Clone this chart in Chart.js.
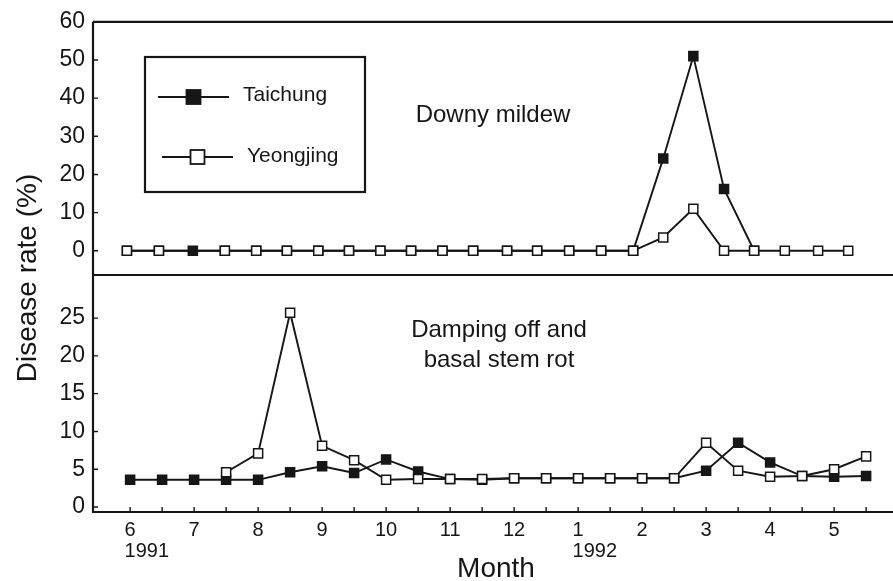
<!DOCTYPE html>
<html>
<head>
<meta charset="utf-8">
<script src="https://cdn.jsdelivr.net/npm/chart.js@4.4.1/dist/chart.umd.min.js"></script>
<style>
    html, body { margin: 0; padding: 0; background: #fff; }
    #wrap { position: relative; width: 893px; height: 581px; }
    #wrap canvas { position: absolute; left: 0; top: 0; }
</style>
</head>
<body>
<div id="wrap">
    <canvas id="mildewChart" width="893" height="581"></canvas>
    <canvas id="dampingChart" width="893" height="581"></canvas>
</div>
<script>
// x values are months counted from June 1991 (0 = Jun 1991, 7 = Jan 1992)
const monthTicks = [0, 0.5, 1, 1.5, 2, 2.5, 3, 3.5, 4, 4.5, 5, 5.5, 6, 6.5, 7, 7.5, 8, 8.5, 9, 9.5, 10, 10.5, 11, 11.5];
const monthNames = ['6', '7', '8', '9', '10', '11', '12', '1', '2', '3', '4', '5'];
const yearAt = [0, 7];
const yearNames = ['1991', '1992'];

const mildewTicks = [0, 10, 20, 30, 40, 50, 60];
const dampingTicks = [0, 5, 10, 15, 20, 25];

// Downy mildew (top panel)
const mildewDates = [-0.05, 0.45, 0.98, 1.48, 1.97, 2.45, 2.94, 3.42, 3.91, 4.39, 4.88, 5.36, 5.89, 6.36, 6.86, 7.36, 7.86, 8.33, 8.80, 9.28, 9.75, 10.23, 10.75, 11.22];
const mildewTaichung = [0, 0, 0, 0, 0, 0, 0, 0, 0, 0, 0, 0, 0, 0, 0, 0, 0, 24.2, 51, 16.2, 0, null, null, null];
const mildewYeongjing = [0, 0, null, 0, 0, 0, 0, 0, 0, 0, 0, 0, 0, 0, 0, 0, 0, 3.5, 11, 0, 0, 0, 0, 0];

// Damping off and basal stem rot (bottom panel)
const dampingDates = monthTicks;
const dampingTaichung = [3.6, 3.6, 3.6, 3.6, 3.6, 4.6, 5.4, 4.5, 6.3, 4.7, 3.7, 3.6, 3.8, 3.8, 3.8, 3.8, 3.8, 3.8, 4.8, 8.5, 5.9, 4.1, 4.0, 4.1];
const dampingYeongjing = [null, null, null, 4.6, 7.1, 25.7, 8.1, 6.2, 3.6, 3.7, 3.7, 3.7, 3.8, 3.8, 3.8, 3.8, 3.8, 3.8, 8.5, 4.8, 4.0, 4.1, 5.0, 6.7];

const INK = '#161616';
const FONT = "'Liberation Sans', Arial, Helvetica, sans-serif";
const X_MIN = -0.58;
const X_MAX = 11.92;

Chart.defaults.font.family = FONT;
Chart.defaults.color = INK;

function series(xs, ys) {
    return xs.map((x, i) => ({ x: x, y: ys[i] }));
}

function lineStyle(filled) {
    return {
        borderColor: INK,
        borderWidth: 1.9,
        pointStyle: 'rect',
        pointRadius: 6.4,
        pointBorderWidth: 1.5,
        pointBorderColor: INK,
        pointBackgroundColor: filled ? INK : '#fff',
        spanGaps: true,
        tension: 0
    };
}

function yScale(min, max, values) {
    return {
        type: 'linear',
        min: min,
        max: max,
        afterBuildTicks: axis => { axis.ticks = values.map(v => ({ value: v })); },
        afterFit: axis => { axis.width = 93; },
        grid: { display: false, drawTicks: false },
        border: { display: false },
        ticks: { padding: 8, font: { size: 23 }, color: INK }
    };
}

// frame lines + small inward tick marks
const framePlugin = {
    id: 'frame',
    beforeDatasetsDraw(chart, args, opts) {
        const { ctx, chartArea: a, scales } = chart;
        ctx.save();
        ctx.strokeStyle = INK;
        ctx.lineWidth = 2.2;
        ctx.beginPath();
        if (opts.top) { ctx.moveTo(a.left, a.top); ctx.lineTo(a.right, a.top); }
        ctx.moveTo(a.left, a.top); ctx.lineTo(a.left, a.bottom);
        ctx.moveTo(a.left - 1, a.bottom); ctx.lineTo(a.right, a.bottom);
        ctx.stroke();

        ctx.lineWidth = 1.4;
        ctx.beginPath();
        scales.y.ticks.forEach(t => {
            const y = scales.y.getPixelForValue(t.value);
            ctx.moveTo(a.left, y); ctx.lineTo(a.left + 5, y);
        });
        if (opts.xTicks) {
            scales.x.ticks.forEach(t => {
                const x = scales.x.getPixelForValue(t.value);
                ctx.moveTo(x, a.bottom); ctx.lineTo(x, a.bottom - 5);
            });
        }
        ctx.stroke();
        ctx.restore();
    }
};

function drawKey(ctx, x1, x2, y, filled) {
    ctx.beginPath();
    ctx.moveTo(x1, y); ctx.lineTo(x2, y);
    ctx.stroke();
    const mx = (x1 + x2) / 2, s = 14;
    ctx.fillStyle = filled ? INK : '#fff';
    ctx.fillRect(mx - s / 2, y - s / 2, s, s);
    ctx.strokeRect(mx - s / 2, y - s / 2, s, s);
}

// legend box + panel label for the top chart
const mildewNotes = {
    id: 'mildewNotes',
    afterDraw(chart) {
        const ctx = chart.ctx;
        ctx.save();
        ctx.strokeStyle = INK;
        ctx.lineWidth = 2.2;
        ctx.strokeRect(145, 57, 220, 135);

        ctx.lineWidth = 1.8;
        drawKey(ctx, 158, 229, 97, true);
        drawKey(ctx, 162, 233, 157, false);

        ctx.fillStyle = INK;
        ctx.font = '21px ' + FONT;
        ctx.textAlign = 'left';
        ctx.textBaseline = 'middle';
        ctx.fillText('Taichung', 243, 95);
        ctx.fillText('Yeongjing', 247, 156);

        ctx.font = '24px ' + FONT;
        ctx.textAlign = 'center';
        ctx.textBaseline = 'alphabetic';
        ctx.fillText('Downy mildew', 493, 122);
        ctx.restore();
    }
};

// panel label, years, axis titles for the bottom chart
const dampingNotes = {
    id: 'dampingNotes',
    afterDraw(chart) {
        const ctx = chart.ctx;
        const x = chart.scales.x;
        ctx.save();
        ctx.fillStyle = INK;
        ctx.font = '24px ' + FONT;
        ctx.textAlign = 'center';
        ctx.textBaseline = 'alphabetic';
        ctx.fillText('Damping off and', 499, 337);
        ctx.fillText('basal stem rot', 499, 367);

        ctx.font = '20px ' + FONT;
        ctx.textAlign = 'left';
        yearAt.forEach((m, i) => {
            const w = ctx.measureText(monthNames[m]).width;
            ctx.fillText(yearNames[i], x.getPixelForValue(m) - w / 2, 557);
        });

        ctx.font = '28px ' + FONT;
        ctx.textAlign = 'center';
        ctx.fillText('Month', 496, 577);

        ctx.translate(36, 278);
        ctx.rotate(-Math.PI / 2);
        ctx.fillText('Disease rate (%)', 0, 0);
        ctx.restore();
    }
};

function initMildewChart() {
    new Chart(document.getElementById('mildewChart'), {
        type: 'line',
        data: {
            datasets: [
                { label: 'Yeongjing', data: series(mildewDates, mildewYeongjing), ...lineStyle(false) },
                { label: 'Taichung', data: series(mildewDates, mildewTaichung), ...lineStyle(true) }
            ]
        },
        options: {
            responsive: false,
            animation: false,
            events: [],
            layout: { autoPadding: false, padding: { top: 19, bottom: 306, left: 0, right: 0 } },
            plugins: { legend: { display: false }, tooltip: { enabled: false }, frame: { top: true, xTicks: false } },
            scales: {
                x: { type: 'linear', min: X_MIN, max: X_MAX, display: false },
                y: yScale(-6.35, 60, mildewTicks)
            }
        },
        plugins: [framePlugin, mildewNotes]
    });
}

function initDampingChart() {
    new Chart(document.getElementById('dampingChart'), {
        type: 'line',
        data: {
            datasets: [
                { label: 'Yeongjing', data: series(dampingDates, dampingYeongjing), ...lineStyle(false) },
                { label: 'Taichung', data: series(dampingDates, dampingTaichung), ...lineStyle(true) }
            ]
        },
        options: {
            responsive: false,
            animation: false,
            events: [],
            layout: { autoPadding: false, padding: { top: 275, bottom: 0, left: 0, right: 0 } },
            plugins: { legend: { display: false }, tooltip: { enabled: false }, frame: { top: true, xTicks: true } },
            scales: {
                x: {
                    type: 'linear',
                    min: X_MIN,
                    max: X_MAX,
                    afterBuildTicks: axis => { axis.ticks = monthTicks.map(v => ({ value: v })); },
                    afterFit: axis => { axis.height = 69; },
                    grid: { display: false, drawTicks: false },
                    border: { display: false },
                    ticks: {
                        autoSkip: false,
                        maxRotation: 0,
                        minRotation: 0,
                        padding: 6,
                        font: { size: 20 },
                        color: INK,
                        callback: v => Number.isInteger(v) ? monthNames[v] : ''
                    }
                },
                y: yScale(-0.66, 30.7, dampingTicks)
            }
        },
        plugins: [framePlugin, dampingNotes]
    });
}

initMildewChart();
initDampingChart();
</script>
</body>
</html>
